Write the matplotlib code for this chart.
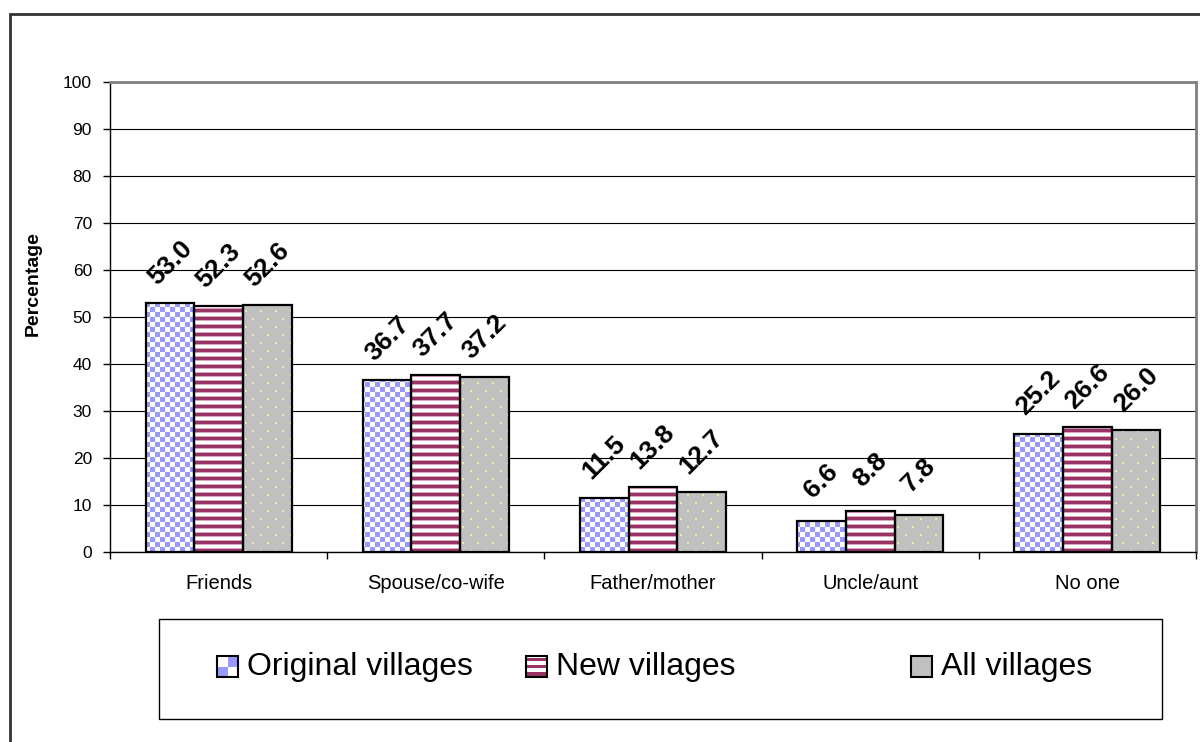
import numpy as np
import matplotlib
matplotlib.use("Agg")
import matplotlib.pyplot as plt
from matplotlib.patches import Rectangle, PathPatch, Patch
from matplotlib.path import Path
from matplotlib.legend_handler import HandlerBase

plt.rcParams['font.family'] = ['Liberation Sans', 'DejaVu Sans']

# data
categories = ["Friends", "Spouse/co-wife", "Father/mother", "Uncle/aunt", "No one"]
series_names = ["Original villages", "New villages", "All villages"]
original_villages = [53.0, 36.7, 11.5, 6.6, 25.2]
new_villages = [52.3, 37.7, 13.8, 8.8, 26.6]
all_villages = [52.6, 37.2, 12.7, 7.8, 26.0]
yticks = list(range(0, 101, 10))

BLUE = (153, 153, 255)
MAROON = (153, 51, 102)
PINK = (215, 165, 190)
GRAY = (192, 192, 192)
DOT = (235, 235, 175)
WHITE = (255, 255, 255)

W, H = 1200, 742
fig = plt.figure(figsize=(W / 100, H / 100), dpi=100)
ax_l, ax_r, ax_t, ax_b = 110, 1196, 82, 552
ax = fig.add_axes([ax_l / W, 1 - ax_b / H, (ax_r - ax_l) / W, (ax_b - ax_t) / H])

# outer chart frame (runs off the right and bottom of the picture)
fig.patches.append(Rectangle((10 / W, -0.2), 1.3, 1.2 - 14 / H, transform=fig.transFigure,
                             fill=False, lw=2, ec='#333333', clip_on=False))


def make_pattern(kind, w, h):
    yy, xx = np.mgrid[0:h, 0:w]
    img = np.zeros((h, w, 3), dtype=np.uint8)
    if kind == "checker":
        mask = ((xx // 5 + yy // 5) % 2) == 0
        img[:] = WHITE
        img[mask] = BLUE
    elif kind == "stripes":
        img[:] = WHITE
        r = yy % 8
        img[(r == 0) | (r == 1) | (r == 2)] = MAROON
        img[(r == 3) | (r == 7)] = PINK
    else:
        img[:] = GRAY
        row = yy // 8
        sx = np.where(row % 2 == 0, 0, 7)
        mask = ((yy % 8) < 2) & (((xx - sx) % 15) < 2)
        img[mask] = DOT
    return img


kinds = ["checker", "stripes", "dots"]
x = np.arange(len(categories))
bw = 0.224
aw, ah = ax_r - ax_l, ax_b - ax_t

for i, (vals, kind) in enumerate(zip([original_villages, new_villages, all_villages], kinds)):
    bars = ax.bar(x + (i - 1) * bw, vals, width=bw, facecolor='none', edgecolor='black',
                  linewidth=1.6, zorder=3)
    paths = [b.get_patch_transform().transform_path(b.get_path()) for b in bars]
    clip = PathPatch(Path.make_compound_path(*paths), transform=ax.transData)
    im = ax.imshow(make_pattern(kind, aw, ah), extent=[-0.5, 4.5, 0, 100], origin='lower',
                   aspect='auto', interpolation='nearest', zorder=2)
    im.set_clip_path(clip)
    for xi, v in zip(x + (i - 1) * bw, vals):
        ax.annotate(f"{v:.1f}", (xi, v), xytext=(0, 29), textcoords='offset points',
                    rotation=45, ha='center', va='center', fontsize=19, fontweight='bold')

ax.set_xlim(-0.5, 4.5)
ax.set_ylim(0, 100)
ax.set_yticks(yticks)
ax.tick_params(axis='y', labelsize=12.5, length=5, width=1, pad=8)
ax.set_xticks(np.arange(-0.5, 5, 1), labels=[])
ax.set_xticks(x, labels=categories, minor=True)
ax.tick_params(axis='x', which='major', length=5, width=1)
ax.tick_params(axis='x', which='minor', length=0, labelsize=14.5, pad=16)
ax.grid(axis='y', color='black', lw=0.8, zorder=0)
ax.set_axisbelow(True)
for s in ['top', 'right']:
    ax.spines[s].set_color('#808080')
    ax.spines[s].set_linewidth(2)
for s in ['left', 'bottom']:
    ax.spines[s].set_color('black')
    ax.spines[s].set_linewidth(1)

ax.set_ylabel("Percentage", fontsize=14, fontweight='bold')
ax.yaxis.set_label_coords(-0.0626, 0.572)


class PatternHandler(HandlerBase):
    def __init__(self, kind):
        super().__init__()
        self.kind = kind

    def create_artists(self, legend, orig_handle, xdescent, ydescent, width, height, fontsize, trans):
        s = height
        x0, y0 = -xdescent + (width - s) / 2, -ydescent - 2
        arts = []
        if self.kind == "checker":
            arts.append(Rectangle((x0, y0), s, s, fc='white', ec='none', transform=trans))
            for a in range(2):
                for b in range(2):
                    if (a + b) % 2 == 0:
                        arts.append(Rectangle((x0 + a * s / 2, y0 + b * s / 2), s / 2, s / 2,
                                              fc=np.array(BLUE) / 255, ec='none', transform=trans))
        elif self.kind == "stripes":
            arts.append(Rectangle((x0, y0), s, s, fc='white', ec='none', transform=trans))
            for k in range(3):
                arts.append(Rectangle((x0, y0 + k * s / 3 + s / 12), s, s / 6,
                                      fc=np.array(MAROON) / 255, ec='none', transform=trans))
        else:
            arts.append(Rectangle((x0, y0), s, s, fc=np.array(GRAY) / 255, ec='none', transform=trans))
        arts.append(Rectangle((x0, y0), s, s, fc='none', ec='black', lw=1.5, transform=trans))
        return arts


# legend frame, then one legend entry per slot (Excel spaces them unevenly)
fig.patches.append(Rectangle((159 / W, 1 - 719 / H), (1162 - 159) / W, 100 / H,
                             transform=fig.transFigure, fill=False, lw=1, ec='black'))
entry_x = [217, 526, 911]
for name, kind, ex in zip(series_names, kinds, entry_x):
    h = Patch(label=name)
    fig.legend([h], [name], loc='center left', bbox_to_anchor=(ex / W, 1 - 667 / H),
               handler_map={h: PatternHandler(kind)}, fontsize=23, frameon=False,
               handlelength=0.66, handleheight=0.66, handletextpad=0.28,
               borderpad=0, borderaxespad=0)

fig.savefig("out.png", dpi=100)
